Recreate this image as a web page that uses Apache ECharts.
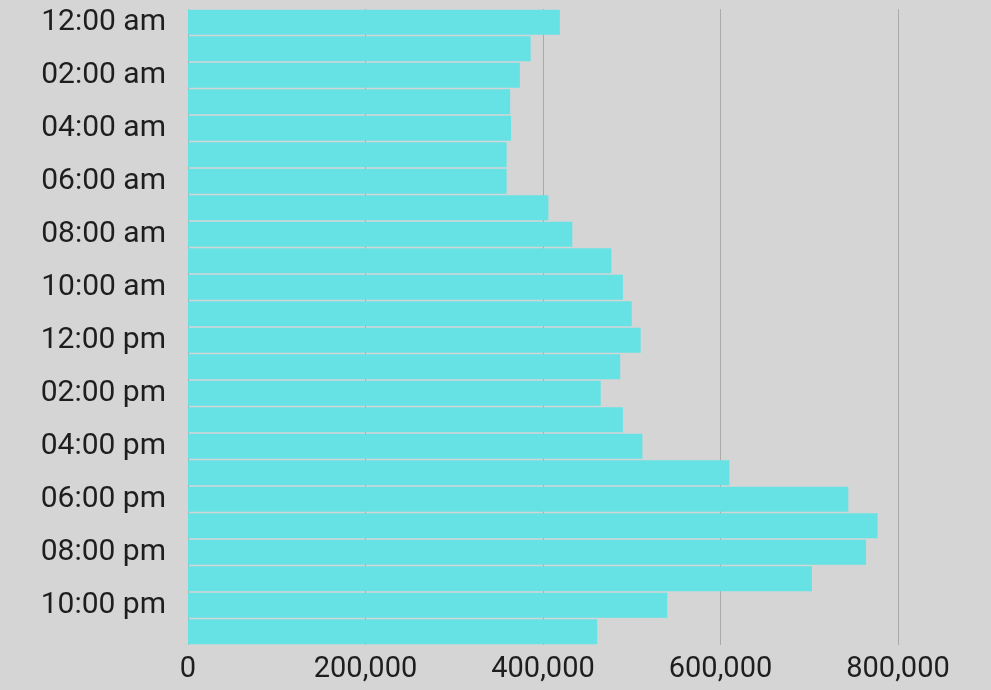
<!DOCTYPE html>
<html>
<head>
<meta charset="utf-8">
<script src="https://cdn.jsdelivr.net/npm/echarts@6/dist/echarts.min.js"></script>
<style>
  html, body { margin: 0; padding: 0; background: #d5d5d5; }
  #chart { width: 991px; height: 690px; }
</style>
</head>
<body>
<div id="chart"></div>
<script>
// Hour-of-day buckets, top to bottom
const hours = [
  '12:00 am', '01:00 am', '02:00 am', '03:00 am', '04:00 am', '05:00 am',
  '06:00 am', '07:00 am', '08:00 am', '09:00 am', '10:00 am', '11:00 am',
  '12:00 pm', '01:00 pm', '02:00 pm', '03:00 pm', '04:00 pm', '05:00 pm',
  '06:00 pm', '07:00 pm', '08:00 pm', '09:00 pm', '10:00 pm', '11:00 pm'
];

// Count per hour
const counts = [
  419000, 386000, 374000, 363000, 364000, 359000,
  359000, 406000, 433000, 477000, 490000, 500000,
  510000, 487000, 465000, 490000, 512000, 610000,
  744000, 777000, 764000, 703000, 540000, 461000
];

// Value axis ticks
const xTicks = [0, 200000, 400000, 600000, 800000];

const chart = echarts.init(document.getElementById('chart'), null, { renderer: 'canvas' });

const fontFamily = 'Roboto, "Noto Sans", sans-serif';

chart.setOption({
  backgroundColor: '#d5d5d5',
  animation: false,
  grid: { left: 188, right: 93, top: 9, bottom: 45, containLabel: false },
  xAxis: {
    type: 'value',
    min: xTicks[0],
    max: xTicks[xTicks.length - 1],
    interval: xTicks[1] - xTicks[0],
    axisLine: { show: false },
    axisTick: { show: false },
    splitLine: { show: true, lineStyle: { color: '#aaaaaa', width: 1 } },
    axisLabel: {
      color: '#1e1e1e',
      fontFamily: fontFamily,
      fontSize: 29,
      margin: 10,
      formatter: v => v.toLocaleString('en-US')
    }
  },
  yAxis: {
    type: 'category',
    data: hours,
    inverse: true,
    axisLine: { show: false },
    axisTick: { show: false },
    axisLabel: {
      interval: 1,
      color: '#1e1e1e',
      fontFamily: fontFamily,
      fontSize: 30,
      margin: 22
    }
  },
  series: [{
    type: 'bar',
    data: counts,
    barCategoryGap: '6%',
    itemStyle: { color: '#66e2e5' }
  }]
});
</script>
</body>
</html>
